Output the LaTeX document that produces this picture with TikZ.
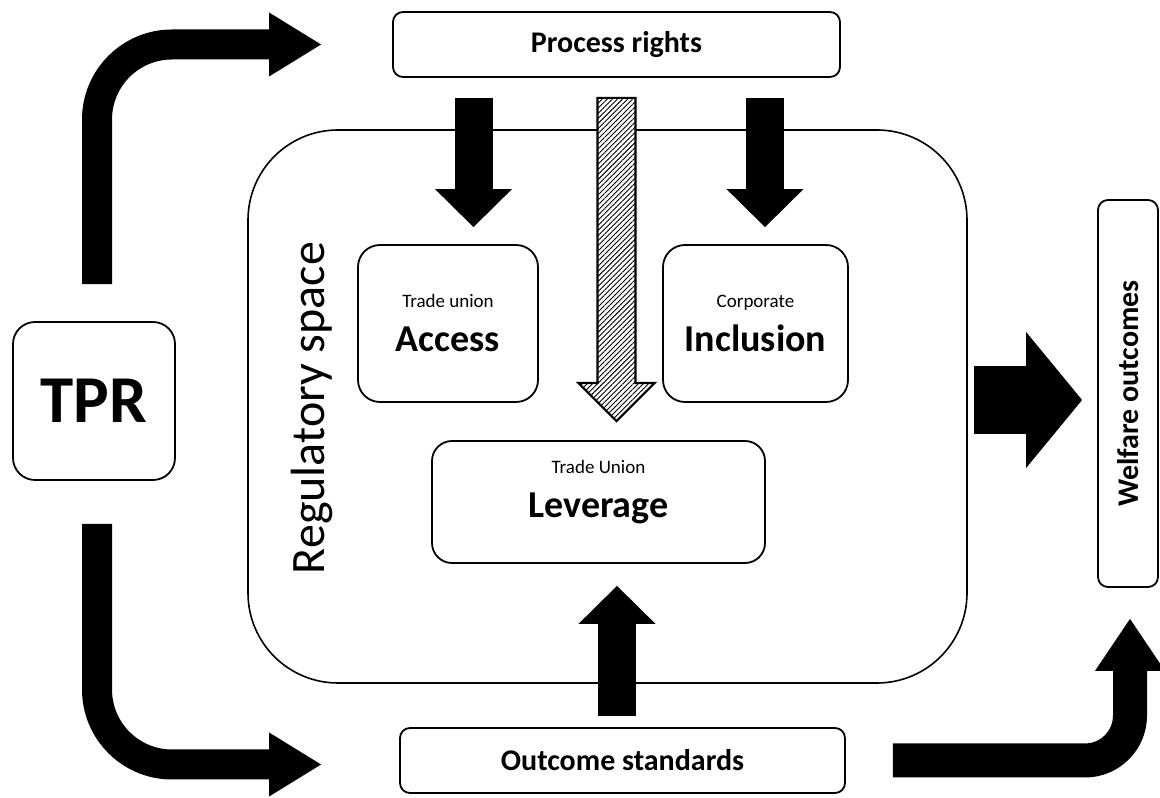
\documentclass[tikz,border=0pt]{standalone}
\usepackage{fontspec}
\setmainfont{Carlito}
\usepackage{tikz}
\usetikzlibrary{arrows.meta,positioning,calc,patterns.meta}
\newcommand{\smalltxt}{\fontsize{19}{44}\selectfont}
\newcommand{\bigtxt}{\fontsize{38}{44}\selectfont\bfseries}
\tikzset{
  % 圆角框
  box/.style={
    draw,
    line width=1.8pt,
    rounded corners=10pt,
    fill=white,
    inner sep=0pt,
    align=center
  },
  % 标题框(粗体)
  headbox/.style={box, font=\fontsize{30}{36}\selectfont\bfseries},
  % 内部框(两行字, 行距 44pt)
  inbox/.style={box, rounded corners=22pt, font=\fontsize{19}{44}\selectfont},
  % 外面的大框
  regbox/.style={draw, line width=1.6pt, rounded corners=90pt},
  % 黑色粗箭头
  fatarr/.style={line width=38pt, -{Triangle[length=38pt, width=77pt, line width=0pt]}},
  % 拐弯箭头
  bendarr/.style={line width=30pt, rounded corners=75pt, -{Triangle[length=52pt, width=64pt, line width=0pt]}},
  % 斜线填充箭头
  hatcharr/.style={
    line width=2.2pt,
    preaction={fill=white},
    pattern={Lines[angle=45, distance=3.6pt, line width=0.9pt]}
  },
}

\begin{document}
\begin{tikzpicture}[x=1pt, y=1pt]
  \useasboundingbox (0,0) rectangle (1160,798);

  % Regulatory space
  \node[regbox, minimum width=719pt, minimum height=553pt] (regspace) at (607.5,391.5) {};
  \node[rotate=90, font=\fontsize{48}{58}\selectfont] (reglabel) at (312,390) {Regulatory space};

  % Outer boxes
  \node[box, rounded corners=22pt, minimum width=162pt, minimum height=158pt,
        font=\fontsize{67}{80}\selectfont\bfseries] (tpr) at (94,397) {TPR};
  \node[headbox, minimum width=447pt, minimum height=65pt] (process) at (616.5,753.5) {Process rights};
  \node[headbox, minimum width=445pt, minimum height=65pt] (outcome) at (622.5,37.5) {Outcome standards};
  \node[headbox, rotate=90, minimum width=387pt, minimum height=60pt] (welfare) at (1128,404.5) {Welfare outcomes};

  % Inner boxes
  \node[inbox, minimum width=180pt, minimum height=157pt] (access) at (448,474.5) {\smalltxt Trade union\\ \bigtxt Access};
  \node[inbox, minimum width=185pt, minimum height=157pt] (inclusion) at (755.5,474.5) {\smalltxt Corporate\\ \bigtxt Inclusion};
  \node[inbox, rounded corners=20pt, minimum width=333pt, minimum height=122pt, text depth=26pt]
        (leverage) at (598.5,296) {\smalltxt Trade Union\\ \bigtxt Leverage};

  % Bent arrows
  \draw[bendarr] ([xshift=3pt,yshift=37pt]tpr.north) |- ([xshift=-71pt]process.west);
  \draw[bendarr] ([xshift=3pt,yshift=-43pt]tpr.south) |- ([xshift=-78pt,yshift=-4pt]outcome.west);
  \draw[bendarr, line width=34pt, rounded corners=45pt, -{Triangle[length=52pt, width=70pt, line width=0pt]}]
        ([xshift=47pt]outcome.east) -| ([xshift=2pt,yshift=-31pt]welfare.west);

  % Straight arrows
  \draw[fatarr] ([xshift=-143pt,yshift=-20pt]process.south) -- ([xshift=25.5pt,yshift=17pt]access.north);
  \draw[fatarr] ([xshift=148.5pt,yshift=-20pt]process.south) -- ([xshift=9.5pt,yshift=17pt]inclusion.north);
  \draw[fatarr] ([xshift=-5.5pt,yshift=11pt]outcome.north) -- ([xshift=18.5pt,yshift=-22pt]leverage.south);
  \draw[fatarr, line width=68pt, -{Triangle[length=56pt, width=136pt, line width=0pt]}]
        ([xshift=6pt,yshift=6.5pt]regspace.east) -- ([xshift=-15pt,yshift=-6.5pt]welfare.north);

  % Hatched arrow
  \coordinate (hstart) at ([yshift=-20pt]process.south);
  \coordinate (htip) at ([xshift=18pt,yshift=19pt]leverage.north);
  \draw[hatcharr] ($(hstart)+(-19,0)$) -- ($(hstart)+(19,0)$) -- ($(htip)+(19,38)$) -- ($(htip)+(38,38)$)
        -- (htip) -- ($(htip)+(-38,38)$) -- ($(htip)+(-19,38)$) -- cycle;
\end{tikzpicture}
\end{document}
